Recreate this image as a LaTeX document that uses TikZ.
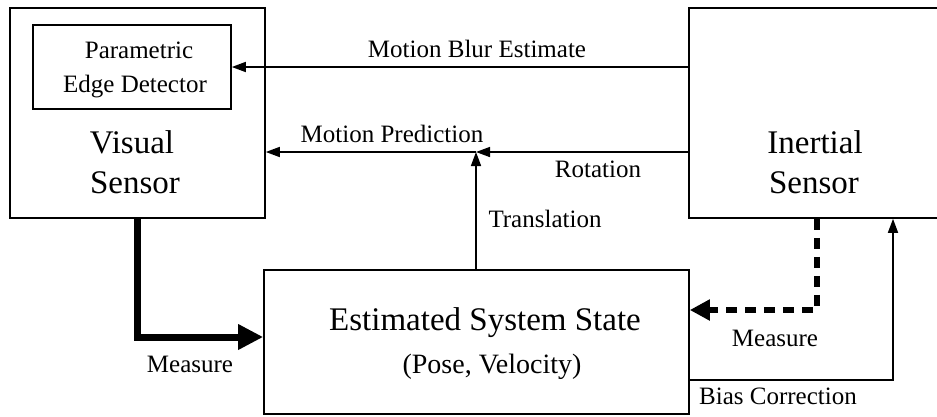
\documentclass[tikz,border=0pt]{standalone}
\usepackage{fontspec}
\setmainfont{Liberation Serif}
\usetikzlibrary{arrows.meta}
\begin{document}
\begin{tikzpicture}[x=1pt,y=-1pt,
  box/.style={draw,line width=1.6pt,rectangle,inner sep=0pt},
  big/.style={font=\fontsize{33}{40}\selectfont,anchor=base,inner sep=0pt},
  lbl/.style={font=\fontsize{25}{30}\selectfont,anchor=base,inner sep=0pt},
  flow/.style={line width=1.6pt,-{Triangle[length=14pt,width=10pt]}},
  heavy/.style={line width=7pt,-{Triangle[length=25pt,width=24pt]}},
  dashflow/.style={line width=6pt,dash pattern=on 11pt off 8pt,
    -{Triangle[length=20pt,width=20pt]}}]
\clip (0,0) rectangle (937,416);
\fill[white] (0,0) rectangle (937,416);

% blocks
\node[box,minimum width=255pt,minimum height=210pt] (vis) at (137.5,113) {};
\node[box,minimum width=198pt,minimum height=84pt] (ped) at (132,67) {};
\node[box,minimum width=256pt,minimum height=210pt] (ine) at (817,113) {};
\node[box,minimum width=425pt,minimum height=144pt] (est) at (476.5,342) {};

% block texts
\node[lbl] (ped1) at (139,58) {Parametric};
\node[lbl] (ped2) at (135,92) {Edge Detector};
\node[big] (vis1) at (132,153) {Visual};
\node[big] (vis2) at (135,193) {Sensor};
\node[big] (ine1) at (815,153) {Inertial};
\node[big] (ine2) at (814,193) {Sensor};
\node[big] (est1) at (485,330) {Estimated System State};
\node[lbl,font=\fontsize{28}{34}\selectfont] (est2) at (492,373) {(Pose, Velocity)};

% helper points
\coordinate (j) at (476,152);
\coordinate (m1) at (0,337);
\coordinate (m2) at (0,310);
\coordinate (m3) at (893,380);

% connectors
\draw[flow] (ine.west |- ped.east) -- (ped.east);
\draw[flow] (ine.west |- j) -- (j);
\draw[flow] (j) -- (vis.east |- j);
\draw[flow] (est.north -| j) -- (j);
\draw[heavy] (vis.south) |- (est.west |- m1);
\draw[dashflow] (ine.south) |- (est.east |- m2);
\draw[flow] (est.east |- m3) -| (ine.south -| m3);

% connector labels
\node[lbl] (lblur) at (477,57) {Motion Blur Estimate};
\node[lbl] (lpred) at (392,142) {Motion Prediction};
\node[lbl] (lrot) at (598,177) {Rotation};
\node[lbl] (ltra) at (545,227) {Translation};
\node[lbl] (lmea1) at (190,372) {Measure};
\node[lbl] (lmea2) at (775,346) {Measure};
\node[lbl] (lbias) at (778,404) {Bias Correction};
\end{tikzpicture}
\end{document}
